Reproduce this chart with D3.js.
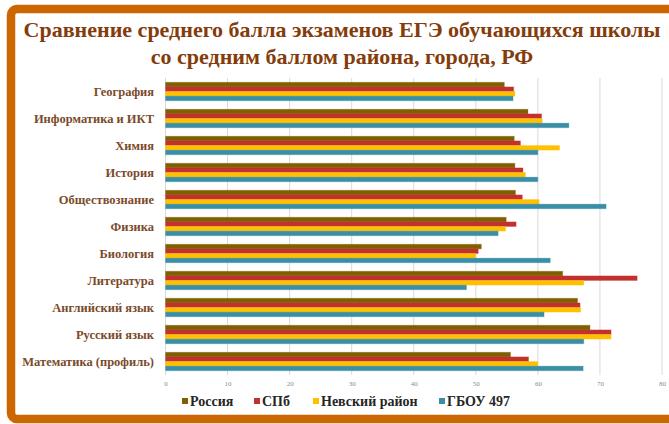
<!DOCTYPE html>
<html>
<head>
<meta charset="utf-8">
<script src="https://cdn.jsdelivr.net/npm/d3@7"></script>
<style>
  body { margin: 0; background: #fff; }
  svg { display: block; }
</style>
</head>
<body>
<div id="chart"></div>
<script>
// subjects, top to bottom
const subjects = ['География', 'Информатика и ИКТ', 'Химия', 'История', 'Обществознание',
  'Физика', 'Биология', 'Литература', 'Английский язык', 'Русский язык', 'Математика (профиль)'];

const seriesNames = ['Россия', 'СПб', 'Невский район', 'ГБОУ 497'];
const seriesColors = ['#7f6000', '#c3312f', '#ffc000', '#3a8fa6'];

// values per series, same order as subjects
const russia  = [54.6, 58.4, 56.2, 56.3, 56.4, 54.9, 50.9, 64.0, 66.4, 68.4, 55.6];
const spb     = [56.1, 60.6, 57.2, 57.6, 57.5, 56.5, 50.4, 76.0, 66.8, 71.8, 58.5];
const nevsky  = [56.3, 60.7, 63.5, 58.0, 60.2, 54.8, 50.0, 67.4, 66.9, 71.8, 60.0];
const school  = [56.0, 65.0, 60.0, 60.0, 71.0, 53.6, 62.0, 48.5, 61.0, 67.4, 67.3];

const xTicks = [0, 10, 20, 30, 40, 50, 60, 70, 80];

const W = 669, H = 424;
const serif = '"Times New Roman", "Liberation Serif", serif';
const svg = d3.select('#chart').append('svg').attr('width', W).attr('height', H);

// frame
svg.append('rect')
  .attr('x', 11).attr('y', 9)
  .attr('width', 700).attr('height', 410)
  .attr('rx', 6)
  .attr('fill', '#fff')
  .attr('stroke', '#cc6600')
  .attr('stroke-width', 8.5);

// title
const title = svg.append('text')
  .attr('text-anchor', 'middle')
  .attr('font-family', serif)
  .attr('font-weight', 'bold')
  .attr('font-size', 22)
  .attr('fill', '#843c0c');
title.append('tspan').attr('x', 342).attr('y', 37).text('Сравнение среднего балла экзаменов ЕГЭ обучающихся школы');
title.append('tspan').attr('x', 342).attr('y', 64).text('со средним баллом района, города, РФ');

const x = d3.scaleLinear().domain([0, 80]).range([165.5, 662]);
const y = d3.scaleBand().domain(subjects).range([78, 375]).paddingInner(0.315).paddingOuter(0.1575);
const ySub = d3.scaleBand().domain(seriesNames).range([0, y.bandwidth()]);

// gridlines
svg.append('g').selectAll('line')
  .data(xTicks).enter().append('line')
  .attr('x1', d => x(d)).attr('x2', d => x(d))
  .attr('y1', 78).attr('y2', 375)
  .attr('stroke', '#d9d9d9').attr('stroke-width', 1);

// x axis labels
const xAxis = svg.append('g')
  .attr('transform', 'translate(0,377)')
  .call(d3.axisBottom(x).tickValues(xTicks).tickSize(0).tickPadding(4));
xAxis.select('.domain').remove();
xAxis.selectAll('text')
  .attr('font-family', serif)
  .attr('font-size', 7)
  .attr('fill', '#8c8c8c');

// y labels
const yAxis = svg.append('g')
  .attr('transform', 'translate(161,0)')
  .call(d3.axisLeft(y).tickSize(0).tickPadding(7));
yAxis.select('.domain').remove();
yAxis.selectAll('text')
  .attr('font-family', serif)
  .attr('font-weight', 'bold')
  .attr('font-size', 12.5)
  .attr('fill', '#7b4a2a');

// bars
const allSeries = [russia, spb, nevsky, school];
const rows = [];
subjects.forEach((s, i) => {
  seriesNames.forEach((n, j) => {
    rows.push({ subject: s, series: n, value: allSeries[j][i], color: seriesColors[j] });
  });
});

svg.append('g').selectAll('rect')
  .data(rows).enter().append('rect')
  .attr('x', x(0))
  .attr('y', d => y(d.subject) + ySub(d.series))
  .attr('width', d => x(d.value) - x(0))
  .attr('height', ySub.bandwidth())
  .attr('fill', d => d.color)
  .attr('stroke', d => d.color)
  .attr('stroke-opacity', 0.25)
  .attr('stroke-width', 1);

// legend
const legendX = [182, 254, 313, 439];
const legend = svg.append('g').selectAll('g')
  .data(seriesNames).enter().append('g')
  .attr('transform', (d, i) => `translate(${legendX[i]}, 402)`);
legend.append('rect')
  .attr('x', 0).attr('y', -4)
  .attr('width', 6).attr('height', 6)
  .attr('fill', (d, i) => seriesColors[i]);
legend.append('text')
  .attr('x', 8).attr('y', 4)
  .attr('font-family', serif)
  .attr('font-weight', 'bold')
  .attr('font-size', 14)
  .attr('fill', '#262626')
  .text(d => d);
</script>
</body>
</html>
